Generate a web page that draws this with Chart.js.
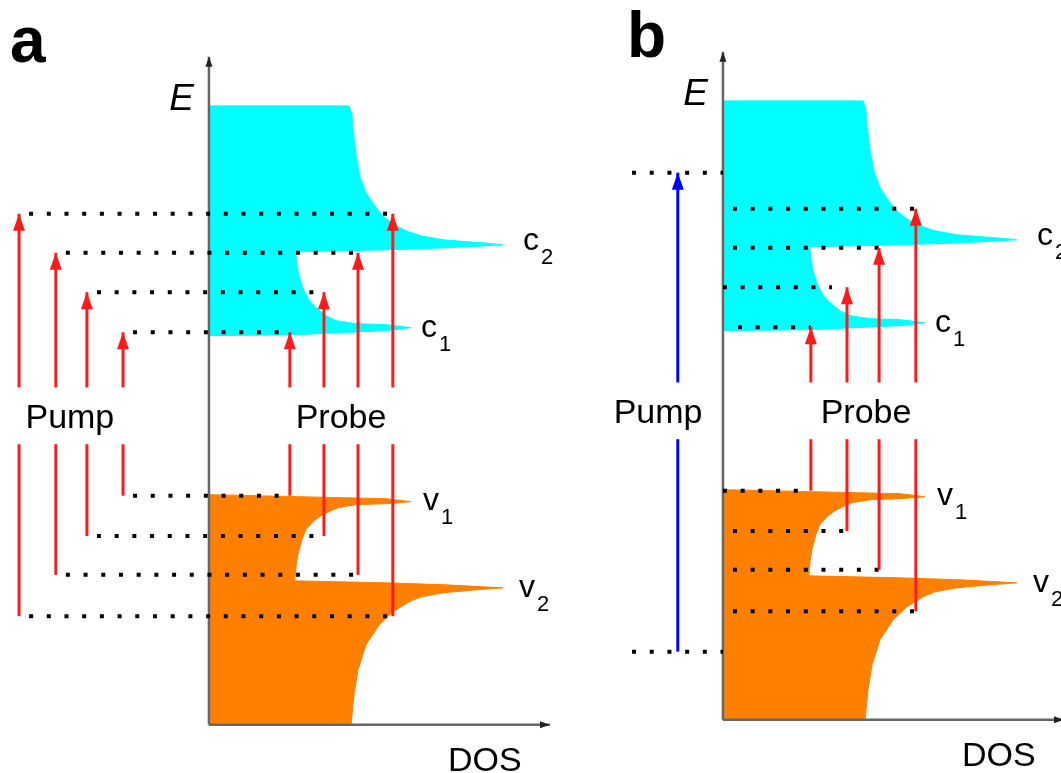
<!DOCTYPE html>
<html>
<head>
<meta charset="utf-8">
<script src="https://cdn.jsdelivr.net/npm/chart.js@4.4.1/dist/chart.umd.min.js"></script>
<style>
  html, body { margin: 0; padding: 0; background: #fff; overflow: hidden; }
  #wrap { position: relative; width: 1061px; height: 773px; overflow: hidden; }
  canvas { position: absolute; }
</style>
</head>
<body>
<div id="wrap">
  <canvas id="panelA" width="560" height="780" style="left:0px;top:0px"></canvas>
  <canvas id="panelB" width="560" height="780" style="left:514px;top:-5px"></canvas>
</div>
<script>
// conduction band DOS outline (c1 + c2), DOS vs E, traced round the shape
const cbDos = [0, 2.60, 5.29, 6.04, 5.29, 4.40, 3.80, 3.50, 3.20, 2.99, 2.81, 2.69, 2.63, 2.60, 5.29, 7.09, 8.79, 8.29, 7.00, 6.34, 5.89, 5.50, 5.20, 4.94, 4.70, 4.52, 4.40, 4.31, 4.28, 4.19, 0];
const cbE   = [11.65, 11.68, 11.80, 11.89, 11.98, 12.01, 12.10, 12.25, 12.49, 12.72, 13.08, 13.47, 13.83, 14.16, 14.22, 14.28, 14.37, 14.42, 14.52, 14.64, 14.79, 15.00, 15.24, 15.57, 15.93, 16.41, 17.07, 17.81, 18.26, 18.53, 18.53];
// valence band DOS outline (v1 + v2)
const vbDos = [0, 2.66, 5.29, 6.04, 5.29, 4.40, 3.86, 3.59, 3.35, 3.11, 2.90, 2.78, 2.66, 2.60, 2.57, 5.29, 7.09, 8.79, 7.99, 7.00, 6.34, 5.98, 5.50, 5.09, 4.70, 4.46, 4.34, 4.25, 0];
const vbE   = [6.89, 6.83, 6.77, 6.68, 6.62, 6.59, 6.50, 6.38, 6.26, 6.08, 5.84, 5.54, 5.09, 4.70, 4.31, 4.25, 4.19, 4.10, 4.04, 3.95, 3.83, 3.68, 3.38, 2.99, 2.40, 1.65, 0.90, 0, 0];

// transition levels: arrow i goes from vLevels[i] up to cLevels[i]
const vLevels = [6.86, 5.65, 4.49, 3.25];
const cLevels = [11.75, 12.95, 14.13, 15.30];
const pumpXA  = [-2.57, -3.65, -4.58, -5.68];
const probeXA = [2.42, 3.44, 4.46, 5.50];
const probeXB = [2.63, 3.71, 4.67, 5.77];
// panel b: single broadband pump
const pumpXB = -1.35;
const pumpLevelsB = [2.04, 16.38];
const pumpDotB = [-2.72, 0];
const dotStartBc = [0.45, 0, 0.3, 0.3];
const dotEndBc   = [2.63, 3.26, 4.67, 5.77];
const dotStartBv = [0, 0.3, 0.3, 0.3];
const textGap = [8.4, 10.1];
const axisTop = 20;
const axisRight = 10.2;

const RED = '#ff1a1a', BLUE = '#0000ff', CYAN = '#00ffff', ORANGE = '#ff8000';
const FONT = '"Liberation Sans", Arial, Helvetica, sans-serif';

function pts(xs, ys) { return xs.map((x, i) => ({ x: x, y: ys[i] })); }

function line(xs, ys, color, width, extra) {
  return Object.assign({
    data: pts(xs, ys), borderColor: color, borderWidth: width,
    pointRadius: 0, pointHoverRadius: 0, fill: false, tension: 0
  }, extra || {});
}

function dots(x0, x1, y) {
  return line([x0, x1], [y, y], '#000', 4, { borderDash: [4, 13.7], order: 1 });
}

function arrow(x, y0, y1, color) {
  // split in two round the Pump / Probe labels
  return [
    line([x, x], [y0, textGap[0]], color, 3, { order: 0 }),
    line([x, x], [textGap[1], y1], color, 3, { order: 0, head: [12, 17] })
  ];
}

function bands() {
  return [
    line(cbDos, cbE, CYAN, 1, { backgroundColor: CYAN, fill: 'shape', order: 3 }),
    line(vbDos, vbE, ORANGE, 1, { backgroundColor: ORANGE, fill: 'shape', order: 3 }),
    line([0, 0], [0, axisTop], '#666', 2.5, { order: 2, head: [7, 10], headColor: '#222' }),
    line([0, axisRight], [0, 0], '#666', 2.5, { order: 2, head: [7, 10], headColor: '#222' })
  ];
}

const arrowHeads = {
  id: 'arrowHeads',
  afterDatasetsDraw(chart) {
    const ctx = chart.ctx;
    chart.data.datasets.forEach((ds, i) => {
      if (!ds.head) return;
      const p = chart.getDatasetMeta(i).data;
      const a = p[p.length - 2], b = p[p.length - 1];
      const ang = Math.atan2(b.y - a.y, b.x - a.x);
      ctx.save();
      ctx.translate(b.x, b.y);
      ctx.rotate(ang);
      ctx.beginPath();
      ctx.moveTo(0, 0);
      ctx.lineTo(-ds.head[1], -ds.head[0] / 2);
      ctx.lineTo(-ds.head[1], ds.head[0] / 2);
      ctx.closePath();
      ctx.fillStyle = ds.headColor || ds.borderColor;
      ctx.fill();
      ctx.restore();
    });
  }
};

function textLabels(labels) {
  return {
    id: 'textLabels',
    afterDraw(chart) {
      const ctx = chart.ctx, sx = chart.scales.x, sy = chart.scales.y;
      ctx.save();
      ctx.fillStyle = '#000';
      ctx.textBaseline = 'alphabetic';
      labels.forEach(l => {
        const px = sx.getPixelForValue(l.x), py = sy.getPixelForValue(l.y);
        ctx.font = l.font;
        ctx.textAlign = l.align || 'left';
        ctx.fillText(l.text, px, py);
        if (l.sub) {
          const w = ctx.measureText(l.text).width;
          ctx.font = '22px ' + FONT;
          ctx.textAlign = 'left';
          ctx.fillText(l.sub, px + w + 2, py + 14);
        }
      });
      ctx.restore();
    }
  };
}

function bandLabels() {
  const f = '32px ' + FONT;
  return [
    { text: 'c', sub: '2', x: 9.39, y: 14.22, font: f },
    { text: 'c', sub: '1', x: 6.34, y: 11.62, font: f },
    { text: 'v', sub: '1', x: 6.40, y: 6.44, font: f },
    { text: 'v', sub: '2', x: 9.27, y: 3.83, font: f },
    { text: 'E', x: -0.45, y: 18.42, font: 'italic 37px ' + FONT, align: 'right' },
    { text: 'DOS', x: 8.25, y: -1.38, font: '34px ' + FONT, align: 'center' }
  ];
}

function makeChart(id, datasets, labels) {
  return new Chart(document.getElementById(id), {
    type: 'line',
    data: { datasets: datasets },
    options: {
      responsive: false,
      animation: false,
      events: [],
      layout: { padding: 0 },
      plugins: { legend: { display: false }, tooltip: { enabled: false } },
      scales: {
        x: { type: 'linear', min: -6.25, max: 10.5, display: false },
        y: { type: 'linear', min: -1.653, max: 21.7, display: false }
      }
    },
    plugins: [arrowHeads, textLabels(labels)]
  });
}

// panel a
let dsA = bands();
for (let i = 0; i < 4; i++) {
  dsA.push(dots(pumpXA[i] + 0.3, probeXA[i], cLevels[i]));
  dsA.push(dots(pumpXA[i] + 0.3, probeXA[i], vLevels[i]));
  dsA = dsA.concat(arrow(pumpXA[i], vLevels[i], cLevels[i], RED));
  dsA = dsA.concat(arrow(probeXA[i], vLevels[i], cLevels[i], RED));
}
makeChart('panelA', dsA, bandLabels().concat([
  { text: 'a', x: -5.95, y: 19.85, font: 'bold 64px ' + FONT },
  { text: 'Pump', x: -4.16, y: 8.89, font: '34px ' + FONT, align: 'center' },
  { text: 'Probe', x: 3.95, y: 8.89, font: '34px ' + FONT, align: 'center' }
]));

// panel b
let dsB = bands();
for (let i = 0; i < 4; i++) {
  dsB.push(dots(dotStartBc[i], dotEndBc[i], cLevels[i]));
  dsB.push(dots(dotStartBv[i], probeXB[i], vLevels[i]));
  dsB = dsB.concat(arrow(probeXB[i], vLevels[i], cLevels[i], RED));
}
dsB.push(dots(pumpDotB[0], pumpDotB[1], pumpLevelsB[0]));
dsB.push(dots(pumpDotB[0], pumpDotB[1], pumpLevelsB[1]));
dsB = dsB.concat(arrow(pumpXB, pumpLevelsB[0], pumpLevelsB[1], BLUE));
makeChart('panelB', dsB, bandLabels().concat([
  { text: 'b', x: -2.87, y: 19.85, font: 'bold 64px ' + FONT },
  { text: 'Pump', x: -1.94, y: 8.89, font: '34px ' + FONT, align: 'center' },
  { text: 'Probe', x: 4.28, y: 8.89, font: '34px ' + FONT, align: 'center' }
]));
</script>
</body>
</html>
